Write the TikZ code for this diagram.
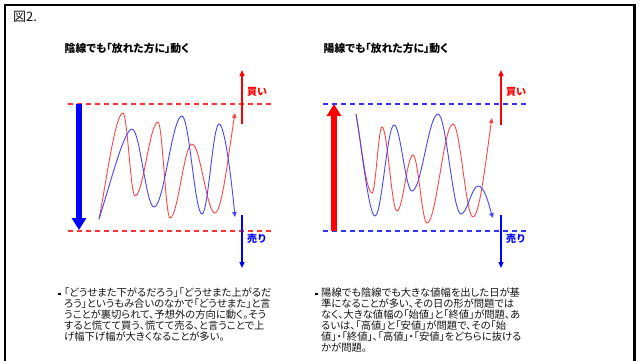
\documentclass[tikz,border=0pt]{standalone}
\usepackage{fontspec}
\setmainfont{Noto Sans CJK JP}
\newfontfamily\jpp[RawFeature=+palt]{Noto Sans CJK JP}
\usetikzlibrary{arrows.meta}
\definecolor{curvered}{RGB}{255,70,70}
\definecolor{curveblue}{RGB}{70,70,255}
\definecolor{dashred}{RGB}{255,50,50}
\definecolor{dashblue}{RGB}{50,50,255}
\definecolor{pured}{RGB}{255,0,0}
\definecolor{pureblue}{RGB}{0,0,255}
\definecolor{txt}{RGB}{20,20,20}
\begin{document}
\begin{tikzpicture}[x=1pt,y=-1pt,
  rcurve/.style={draw=curvered, line width=0.9pt, -{Triangle[length=5pt,width=4.5pt]}},
  bcurve/.style={draw=curveblue, line width=0.9pt, -{Triangle[length=5pt,width=4.5pt]}},
  rdash/.style={draw=dashred, line width=1.1pt, dash pattern=on 5pt off 4pt},
  bdash/.style={draw=dashblue, line width=1.1pt, dash pattern=on 5pt off 4pt},
  bigarrow/.style={line width=6pt, -{Triangle[length=12pt,width=14pt]}},
  thinarrow/.style={line width=1.2pt, -{Triangle[length=6pt,width=5pt]}},
  title/.style={font=\jpp\fontsize{10.8}{12}\selectfont\bfseries, text=black, inner sep=0pt},
  lbl/.style={font=\fontsize{10}{12}\selectfont\bfseries, inner sep=0pt, anchor=west},
  para/.style={font=\jpp\fontsize{10.3}{10.9}\selectfont, text=txt, inner sep=0pt, anchor=north west, align=left},
  bullet/.style={fill=black, minimum size=2.5pt, inner sep=0pt}
]
\useasboundingbox (0,0) rectangle (640,360);
\fill[white] (0,0) rectangle (640,360);
% frame
\draw[line width=2.3pt, line join=miter] (5,370) -- (5,5) -- (634.5,5) -- (634.5,370);
\node[anchor=west, inner sep=0pt, font=\fontsize{13}{15}\selectfont, text=txt] (fig) at (13,17) {図2.};

% ---------- left chart ----------
\node[title] (ltitle) at (127,48) {陰線でも「放れた方に」動く};
\coordinate (lt1) at (68,104); \coordinate (lt2) at (272,104);
\coordinate (lb1) at (68,231); \coordinate (lb2) at (272,231);
\draw[rdash] (lt1) -- (lt2);
\draw[rdash] (lb1) -- (lb2);
\coordinate (lbigS) at (79,104); \coordinate (lbigE) at (79,230);
\draw[bigarrow, pureblue] (lbigS) -- (lbigE);
\coordinate (lbuyS) at (242,124); \coordinate (lbuyE) at (242,70);
\draw[thinarrow, pured] (lbuyS) -- (lbuyE);
\coordinate (lsellS) at (242,215); \coordinate (lsellE) at (242,268);
\draw[thinarrow, pureblue] (lsellS) -- (lsellE);
\node[lbl, text=pured] (lbuy) at (247,92) {買い};
\node[lbl, text=pureblue] (lsell) at (247,239) {売り};
% red curve
\draw[rcurve] (99,219) .. controls (105,190) and (115,113) .. (123,113)
  .. controls (127.3,113) and (130.7,196) .. (135,196)
  .. controls (143.3,196) and (149.7,122) .. (158,122)
  .. controls (162.3,122) and (165.7,218) .. (170,218)
  .. controls (177.9,218) and (184.1,144) .. (192,144)
  .. controls (200.3,144) and (206.7,213) .. (215,213)
  .. controls (222,213) and (229,150) .. (235,113);
% blue curve
\draw[bcurve] (99,219) .. controls (110,185) and (124,129) .. (132,129)
  .. controls (140,129) and (146,207) .. (154,207)
  .. controls (164,207) and (172,116) .. (182,116)
  .. controls (189.2,116) and (194.8,214) .. (202,214)
  .. controls (208.1,214) and (212.9,124) .. (219,124)
  .. controls (225,124) and (232,185) .. (235,217);

% ---------- right chart ----------
\node[title] (rtitle) at (386,48) {陽線でも「放れた方に」動く};
\coordinate (rt1) at (323,104); \coordinate (rt2) at (526,104);
\coordinate (rb1) at (323,231); \coordinate (rb2) at (526,231);
\draw[bdash] (rt1) -- (rt2);
\draw[bdash] (rb1) -- (rb2);
\coordinate (rbigS) at (334,231); \coordinate (rbigE) at (334,104);
\draw[bigarrow, pured] (rbigS) -- (rbigE);
\coordinate (rbuyS) at (501,125); \coordinate (rbuyE) at (501,70);
\draw[thinarrow, pured] (rbuyS) -- (rbuyE);
\coordinate (rsellS) at (501,215); \coordinate (rsellE) at (501,268);
\draw[thinarrow, pureblue] (rsellS) -- (rsellE);
\node[lbl, text=pured] (rbuy) at (506,92) {買い};
\node[lbl, text=pureblue] (rsell) at (506,239) {売り};
% red curve
\draw[rcurve] (356,114) .. controls (361,140) and (366,193) .. (372,193)
  .. controls (375.6,193) and (378.4,127) .. (382,127)
  .. controls (387.4,127) and (391.6,211) .. (397,211)
  .. controls (402.8,211) and (407.2,155) .. (413,155)
  .. controls (418,155) and (422,223) .. (427,223)
  .. controls (436.4,223) and (443.6,124) .. (453,124)
  .. controls (460.2,124) and (465.8,217) .. (473,217)
  .. controls (480,217) and (487,150) .. (492,118);
% blue curve
\draw[bcurve] (356,114) .. controls (362,150) and (369,216) .. (375,216)
  .. controls (381.8,216) and (387.2,125) .. (394,125)
  .. controls (400.5,125) and (405.5,191) .. (412,191)
  .. controls (421.4,191) and (428.6,114) .. (438,114)
  .. controls (446.3,114) and (452.7,214) .. (461,214)
  .. controls (467.1,214) and (471.9,186) .. (478,186)
  .. controls (485,186) and (489,206) .. (493,218);

% ---------- texts ----------
\node[bullet] (lbul) at (59.5,294) {};
\node[para] (lpara) at (64,288) {「どうせまた下がるだろう」「どうせまた上がるだ\\ろう」というもみ合いのなかで「どうせまた」と言\\うことが裏切られて、予想外の方向に動く。そう\\すると慌てて買う、慌てて売る、と言うことで上\\げ幅下げ幅が大きくなることが多い。};
\node[bullet] (rbul) at (316.5,294) {};
\node[para] (rpara) at (321,288) {陽線でも陰線でも大きな値幅を出した日が基\\準になることが多い、その日の形が問題では\\なく、大きな値幅の「始値」と「終値」が問題、あ\\るいは、「高値」と「安値」が問題で、その「始\\値」・「終値」、「高値」・「安値」をどちらに抜ける\\かが問題。};
\end{tikzpicture}
\end{document}
